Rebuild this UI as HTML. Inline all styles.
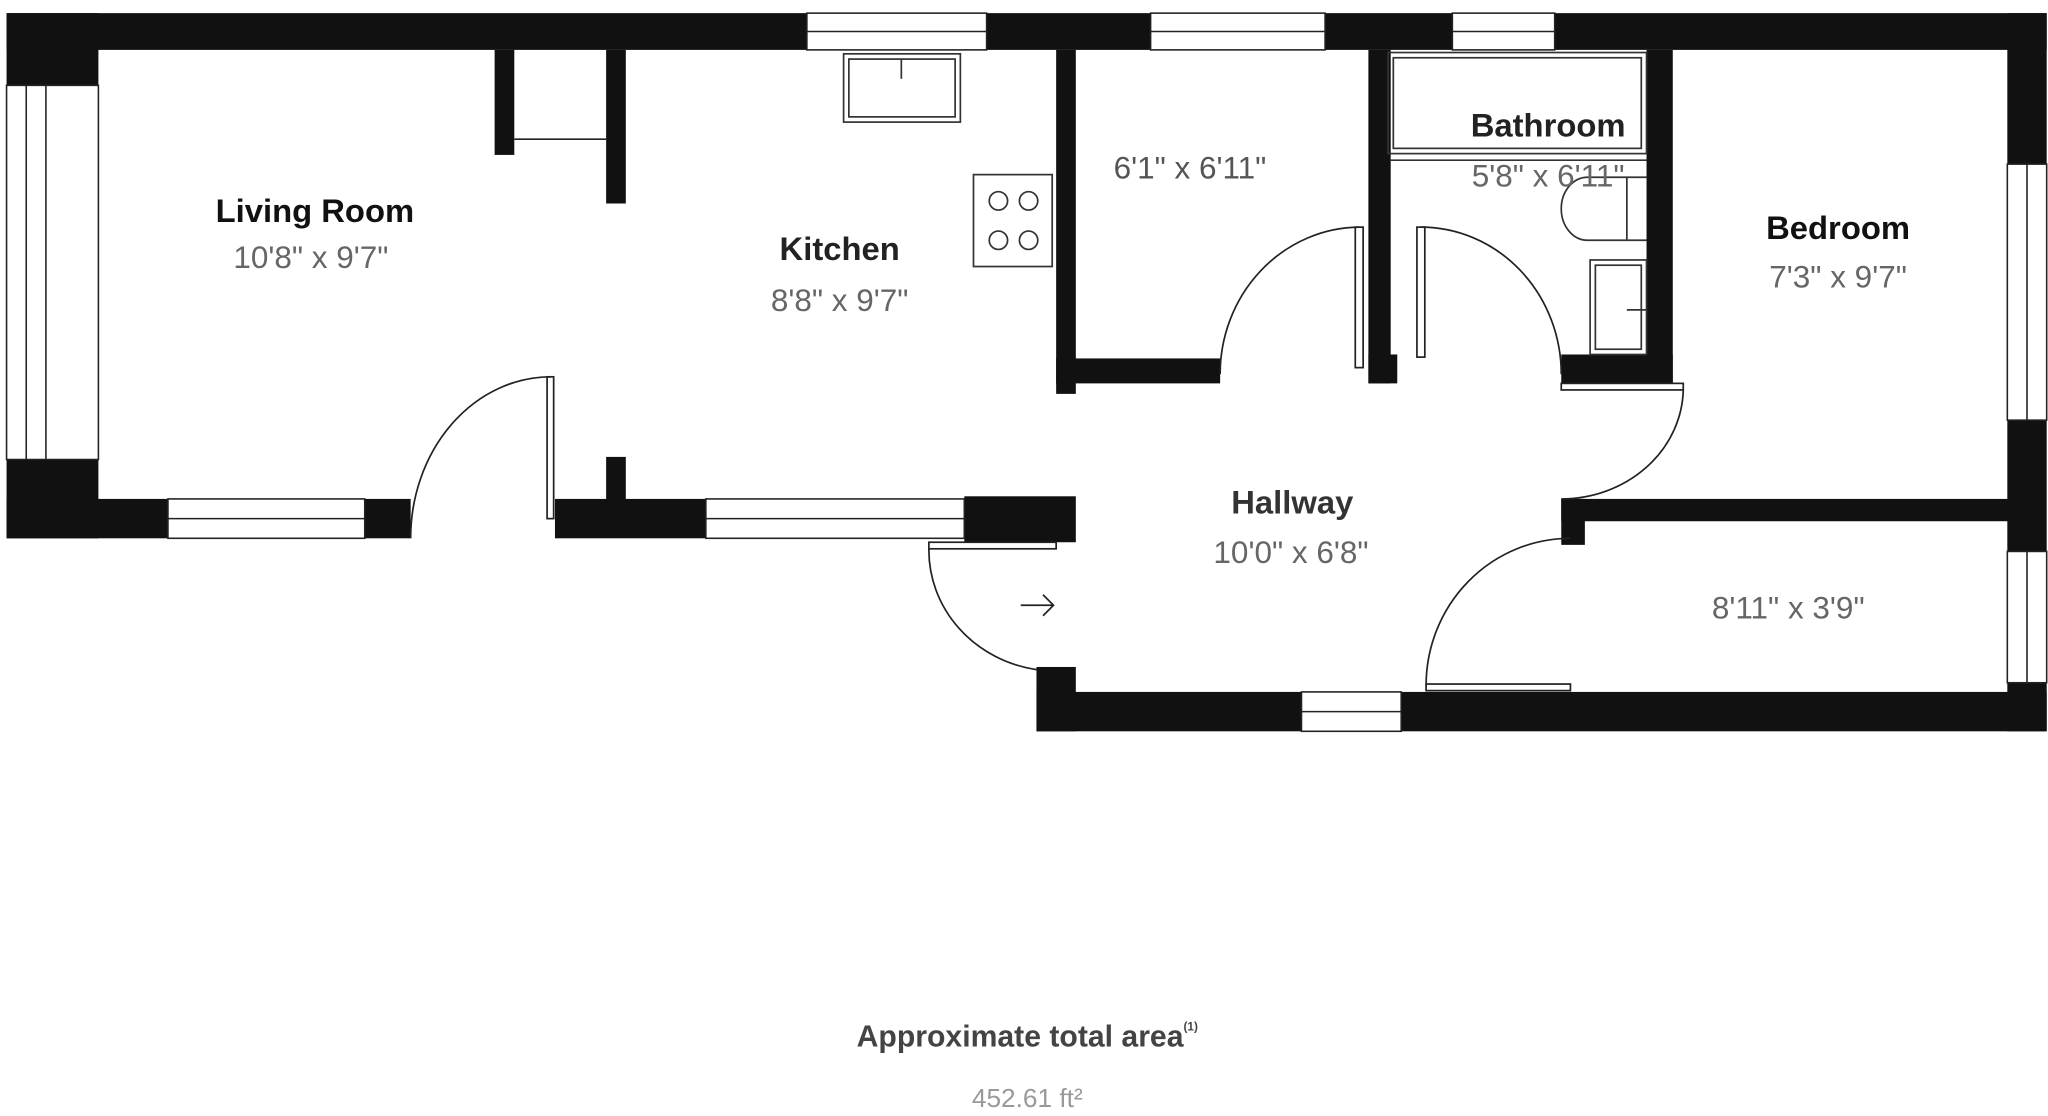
<!DOCTYPE html>
<html><head><meta charset="utf-8"><style>
html,body{margin:0;padding:0;background:#fff;}
svg{display:block;}
text{font-family:"Liberation Sans",sans-serif;}
</style></head><body>
<svg width="2048" height="1116" viewBox="0 0 1561 850" preserveAspectRatio="none" xmlns="http://www.w3.org/2000/svg">
<rect width="1561" height="850" fill="#fff"/>
<g fill="#111">
<!-- top wall -->
<rect x="5" y="10" width="1555" height="28"/>
<!-- left wall -->
<rect x="5" y="10" width="70" height="55"/>
<rect x="5" y="350" width="70" height="60"/>
<!-- bottom left wall -->
<rect x="5" y="380" width="308" height="30"/>
<rect x="423" y="380" width="115" height="30"/>
<rect x="735" y="378" width="85" height="35"/>
<!-- closet -->
<rect x="377" y="38" width="15" height="80"/>
<rect x="462" y="38" width="15" height="117"/>
<rect x="462" y="348" width="15" height="35"/>
<!-- kitchen/small room wall -->
<rect x="805" y="38" width="15" height="262"/>
<rect x="805" y="273" width="125" height="19"/>
<!-- bathroom walls -->
<rect x="1043" y="38" width="17" height="254"/>
<rect x="1043" y="270" width="22" height="22"/>
<rect x="1255" y="38" width="20" height="254"/>
<rect x="1190" y="270" width="85" height="22"/>
<!-- bedroom bottom -->
<rect x="1190" y="380" width="345" height="17"/>
<rect x="1190" y="380" width="18" height="35"/>
<!-- right wall -->
<rect x="1530" y="10" width="30" height="547"/>
<!-- bottom hallway -->
<rect x="790" y="527" width="770" height="30"/>
<rect x="790" y="508" width="30" height="49"/>
</g>
<!-- windows -->
<g fill="#fff" stroke="#222" stroke-width="1.2">
<rect x="615" y="10" width="137" height="28"/><line x1="615" y1="24" x2="752" y2="24"/>
<rect x="877" y="10" width="133" height="28"/><line x1="877" y1="24" x2="1010" y2="24"/>
<rect x="1107" y="10" width="78" height="28"/><line x1="1107" y1="24" x2="1185" y2="24"/>
<rect x="5" y="65" width="70" height="285"/><line x1="20" y1="65" x2="20" y2="350"/><line x1="35" y1="65" x2="35" y2="350"/>
<rect x="128" y="380" width="150" height="30"/><line x1="128" y1="395" x2="278" y2="395"/>
<rect x="538" y="380" width="197" height="30"/><line x1="538" y1="395" x2="735" y2="395"/>
<rect x="1530" y="125" width="30" height="195"/><line x1="1545" y1="125" x2="1545" y2="320"/>
<rect x="1530" y="420" width="30" height="100"/><line x1="1545" y1="420" x2="1545" y2="520"/>
<rect x="992" y="527" width="76" height="30"/><line x1="992" y1="542" x2="1068" y2="542"/>
</g>
<!-- doors -->
<g fill="none" stroke="#222" stroke-width="1.3">
<rect x="417" y="287" width="5" height="108" fill="#fff"/>
<path d="M313 410 A107 123 0 0 1 420 287"/>
<rect x="708" y="413" width="97" height="5" fill="#fff"/>
<path d="M708 418 A97 92 0 0 0 790 510"/>
<rect x="1033" y="173" width="6" height="107" fill="#fff"/>
<path d="M930 285 A107 112 0 0 1 1036 173"/>
<rect x="1080" y="173" width="6" height="99" fill="#fff"/>
<path d="M1083 173 A107 112 0 0 1 1190 285"/>
<rect x="1190" y="292" width="93" height="5" fill="#fff"/>
<path d="M1283 297 A93 85 0 0 1 1190 380"/>
<rect x="1087" y="521" width="110" height="5" fill="#fff"/>
<path d="M1087 522 A110 112 0 0 1 1197 410"/>
<line x1="392" y1="106" x2="462" y2="106"/>
<!-- arrow -->
<path d="M778 461 H803 M795 453 L803 461 L795 469"/>
</g>
<!-- fixtures -->
<g fill="none" stroke="#333" stroke-width="1.3">
<rect x="643" y="41" width="89" height="52"/><rect x="647" y="45" width="81" height="44"/><line x1="687" y1="45" x2="687" y2="60"/>
<rect x="742" y="133" width="60" height="70"/>
<circle cx="761" cy="153" r="7"/><circle cx="784" cy="153" r="7"/><circle cx="761" cy="183" r="7"/><circle cx="784" cy="183" r="7"/>
<rect x="1058" y="40" width="197" height="77"/><rect x="1062" y="44" width="189" height="69"/>
<line x1="1060" y1="122" x2="1255" y2="122"/>
<path d="M1210 135 A20 24 0 0 0 1210 183 H1255 M1240 135 V183 M1210 135 H1255"/>
<rect x="1212" y="198" width="43" height="72"/><rect x="1216" y="202" width="35" height="64"/><line x1="1240" y1="236" x2="1255" y2="236"/>
</g>
<!-- text -->
<g text-anchor="middle">
<text x="240" y="169" font-size="25" font-weight="bold" fill="#111">Living Room</text>
<text x="237" y="204" font-size="24" fill="#666">10'8" x 9'7"</text>
<text x="640" y="198" font-size="25" font-weight="bold" fill="#222">Kitchen</text>
<text x="640" y="237" font-size="24" fill="#666">8'8" x 9'7"</text>
<text x="907" y="136" font-size="24" fill="#555">6'1" x 6'11"</text>
<text x="1180" y="104" font-size="25" font-weight="bold" fill="#222">Bathroom</text>
<text x="1180" y="142" font-size="24" fill="#666">5'8" x 6'11"</text>
<text x="1401" y="182" font-size="25" font-weight="bold" fill="#111">Bedroom</text>
<text x="1401" y="219" font-size="24" fill="#666">7'3" x 9'7"</text>
<text x="985" y="391" font-size="25" font-weight="bold" fill="#333">Hallway</text>
<text x="984" y="429" font-size="24" fill="#666">10'0" x 6'8"</text>
<text x="1363" y="471" font-size="24" fill="#666">8'11" x 3'9"</text>
<text x="783" y="797" font-size="23" font-weight="bold" fill="#444">Approximate total area<tspan font-size="9" dy="-12">(1)</tspan></text>
<text x="783" y="843" font-size="20" fill="#999">452.61 ft²</text>
</g>
</svg>
</body></html>
